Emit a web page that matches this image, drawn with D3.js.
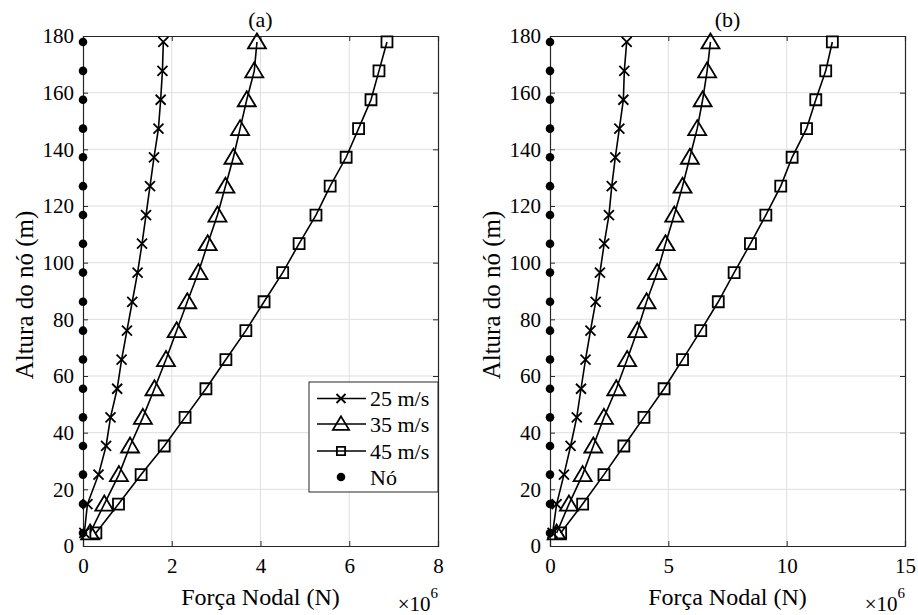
<!DOCTYPE html>
<html>
<head>
<meta charset="utf-8">
<script src="https://cdn.jsdelivr.net/npm/d3@7"></script>
<style>
body { margin: 0; background: #fff; }
</style>
</head>
<body>
<div id="chart"></div>
<script>
// node heights (m)
const heights = [4.6, 14.8, 25.2, 35.3, 45.4, 55.5, 65.8, 76, 86.2, 96.5, 106.7, 116.8, 127, 137.2, 147.3, 157.5, 167.7, 177.9];

// panel (a) nodal force, x10^6 N
const forceA25 = [0.03, 0.10, 0.35, 0.52, 0.62, 0.77, 0.87, 0.99, 1.11, 1.23, 1.33, 1.42, 1.51, 1.60, 1.70, 1.75, 1.79, 1.81];
const forceA35 = [0.16, 0.48, 0.81, 1.06, 1.35, 1.61, 1.87, 2.11, 2.35, 2.60, 2.81, 3.03, 3.21, 3.39, 3.54, 3.69, 3.86, 3.92];
const forceA45 = [0.29, 0.80, 1.31, 1.83, 2.30, 2.77, 3.22, 3.67, 4.08, 4.50, 4.87, 5.25, 5.57, 5.93, 6.21, 6.49, 6.67, 6.85];

// panel (b) nodal force, x10^6 N
const forceB25 = [0.11, 0.28, 0.59, 0.87, 1.13, 1.31, 1.50, 1.71, 1.93, 2.11, 2.29, 2.49, 2.61, 2.76, 2.93, 3.10, 3.14, 3.24];
const forceB35 = [0.28, 0.80, 1.38, 1.83, 2.28, 2.80, 3.26, 3.69, 4.08, 4.53, 4.88, 5.25, 5.60, 5.91, 6.22, 6.45, 6.64, 6.78];
const forceB45 = [0.45, 1.38, 2.28, 3.12, 3.97, 4.82, 5.60, 6.37, 7.11, 7.78, 8.47, 9.12, 9.75, 10.23, 10.84, 11.23, 11.65, 11.93];

const seriesNames = ['25 m/s', '35 m/s', '45 m/s'];
const nodeName = 'Nó';
const yTicks = [0, 20, 40, 60, 80, 100, 120, 140, 160, 180];
const xTicksA = [0, 2, 4, 6, 8];
const xTicksB = [0, 5, 10, 15];

const axisColor = '#262626'
const gridColor = '#dfdfdf'
const serif = '"Liberation Serif", "Times New Roman", Times, "DejaVu Serif", serif'

const svg = d3.select('#chart')
    .append('svg')
    .attr('width', 918)
    .attr('height', 615)

// marker shapes
function markerPath(kind, s) {
    s = s || 1
    if (kind === 'x') {
        let h = 5 * s
        return `M${-h},${-h}L${h},${h}M${-h},${h}L${h},${-h}`
    }
    if (kind === 'tri') {
        return `M0,${-8.5 * s}L${9 * s},${6.5 * s}L${-9 * s},${6.5 * s}Z`
    }
    let h = 5.5 * s
    return `M${-h},${-h}H${h}V${h}H${-h}Z`
}
const kinds = ['x', 'tri', 'sq']

function label(sel, size) {
    return sel.style('font-family', serif).style('font-size', size + 'px').attr('fill', '#000')
}

function panel(left, xMax, xTicks, forces, title, withLegend) {
    const top = 36, width = 355, height = 510
    const g = svg.append('g').attr('transform', 'translate(' + left + ',' + top + ')')

    let x = d3.scaleLinear().domain([0, xMax]).range([0, width])
    let y = d3.scaleLinear().domain([0, 180]).range([height, 0])

    // grid
    g.append('g').selectAll('line').data(xTicks.slice(1, -1)).enter().append('line')
        .attr('x1', d => x(d)).attr('x2', d => x(d))
        .attr('y1', 0).attr('y2', height)
        .attr('stroke', gridColor)
    g.append('g').selectAll('line').data(yTicks.slice(1, -1)).enter().append('line')
        .attr('y1', d => y(d)).attr('y2', d => y(d))
        .attr('x1', 0).attr('x2', width)
        .attr('stroke', gridColor)

    // axes (ticks inward, all four sides)
    let tickLen = 5
    g.append('g').attr('transform', 'translate(0,' + height + ')')
        .call(d3.axisBottom(x).tickValues(xTicks).tickSize(-tickLen).tickPadding(12).tickFormat(d3.format('d')))
    g.append('g')
        .call(d3.axisTop(x).tickValues(xTicks).tickSize(-tickLen).tickFormat(''))
    g.append('g')
        .call(d3.axisLeft(y).tickValues(yTicks).tickSize(-tickLen).tickPadding(9))
    g.append('g').attr('transform', 'translate(' + width + ',0)')
        .call(d3.axisRight(y).tickValues(yTicks).tickSize(-tickLen).tickFormat(''))
    g.selectAll('g').attr('font-family', null)
    g.selectAll('.domain').attr('stroke', axisColor).attr('stroke-width', 1.2)
    g.selectAll('.tick line').attr('stroke', axisColor)
    label(g.selectAll('.tick text'), 21)

    // series lines and markers
    const line = d3.line().x(d => x(d[0])).y(d => y(d[1]))
    forces.forEach((vals, i) => {
        let pts = vals.map((v, j) => [v, heights[j]])
        g.append('path').datum(pts)
            .attr('d', line)
            .attr('fill', 'none')
            .attr('stroke', '#000')
            .attr('stroke-width', 1.6)
        g.append('g').selectAll('path').data(pts).enter().append('path')
            .attr('transform', d => 'translate(' + x(d[0]) + ',' + y(d[1]) + ')')
            .attr('d', markerPath(kinds[i]))
            .attr('fill', 'none')
            .attr('stroke', '#000')
            .attr('stroke-width', 1.8)
    })

    // nodes
    g.append('g').selectAll('circle').data(heights).enter().append('circle')
        .attr('cx', x(0)).attr('cy', d => y(d)).attr('r', 4.3)
        .attr('fill', '#000')

    // labels
    label(g.append('text'), 22).attr('x', width / 2).attr('y', -9.5)
        .attr('text-anchor', 'middle').text(title)
    label(g.append('text'), 24).attr('x', width / 2).attr('y', height + 59)
        .attr('text-anchor', 'middle').text('Força Nodal (N)')
    label(g.append('text'), 25)
        .attr('transform', 'translate(-50,' + (height / 2 + 4) + ') rotate(-90)')
        .attr('text-anchor', 'middle').text('Altura do nó (m)')
    let mult = label(g.append('text'), 21).attr('x', width).attr('y', height + 65)
        .attr('text-anchor', 'end')
    mult.append('tspan').text('×10')
    mult.append('tspan').attr('dy', -13).style('font-size', '15px').text('6')

    if (withLegend) {
        let lg = g.append('g').attr('transform', 'translate(' + (width - 129) + ',' + (382 - top) + ')')
        lg.append('rect').attr('width', 129).attr('height', 110)
            .attr('fill', '#fff').attr('stroke', axisColor).attr('stroke-width', 1)
        let rows = [16.5, 42, 69, 95]
        seriesNames.forEach((name, i) => {
            let r = lg.append('g').attr('transform', 'translate(0,' + rows[i] + ')')
            r.append('line').attr('x1', 8).attr('x2', 57).attr('stroke', '#000').attr('stroke-width', 1.6)
            r.append('path').attr('transform', 'translate(32,0)')
                .attr('d', markerPath(kinds[i], i === 2 ? 0.75 : 0.9))
                .attr('fill', 'none').attr('stroke', '#000').attr('stroke-width', 1.8)
            label(r.append('text'), 22).attr('x', 61).attr('dy', '0.35em').text(name)
        })
        let r = lg.append('g').attr('transform', 'translate(0,' + rows[3] + ')')
        r.append('circle').attr('cx', 32).attr('r', 4.3).attr('fill', '#000')
        label(r.append('text'), 22).attr('x', 61).attr('dy', '0.35em').text(nodeName)
    }
}

panel(83, 8, xTicksA, [forceA25, forceA35, forceA45], '(a)', true)
panel(550, 15, xTicksB, [forceB25, forceB35, forceB45], '(b)', false)
</script>
</body>
</html>
